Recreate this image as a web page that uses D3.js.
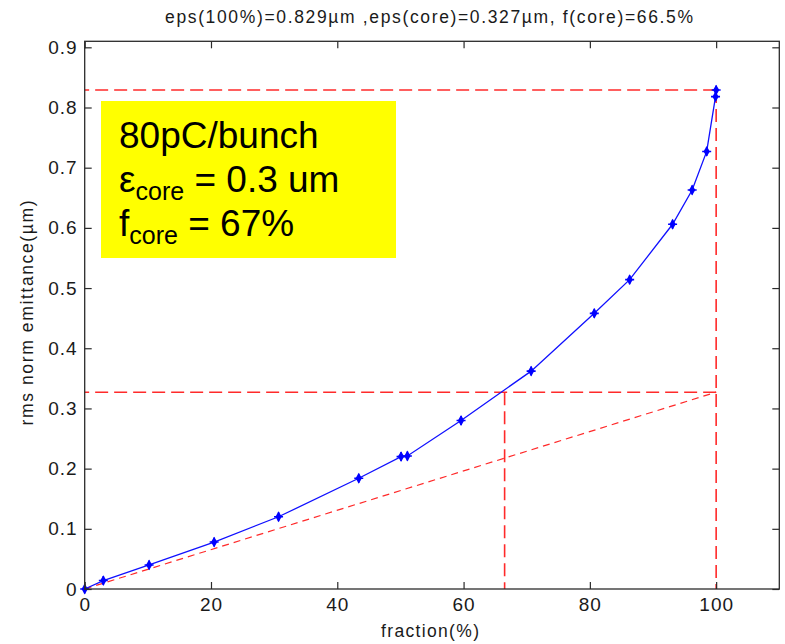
<!DOCTYPE html>
<html>
<head>
<meta charset="utf-8">
<script src="https://cdn.jsdelivr.net/npm/d3@7"></script>
<style>
  html, body { margin: 0; padding: 0; background: #fff; }
  svg { display: block; font-family: "Liberation Sans", Arial, sans-serif; }
</style>
</head>
<body>
<div id="chart"></div>
<script>
const fraction = [0, 2.95, 10.2, 20.5, 30.7, 43.4, 50.1, 51.1, 59.6, 70.7, 80.7, 86.3, 93.1, 96.2, 98.5, 99.9, 100];
const emittance = [0, 0.014, 0.040, 0.078, 0.120, 0.184, 0.220, 0.221, 0.280, 0.362, 0.458, 0.514, 0.606, 0.663, 0.727, 0.818, 0.829];

// guide values
const epsFull = 0.829;
const epsCore = 0.327;
const fCore = 66.5;

const xTicks = [0, 20, 40, 60, 80, 100];
const xTickLabels = ["0", "20", "40", "60", "80", "100"];
const yTicks = [0, 0.1, 0.2, 0.3, 0.4, 0.5, 0.6, 0.7, 0.8, 0.9];
const yTickLabels = ["0", "0.1", "0.2", "0.3", "0.4", "0.5", "0.6", "0.7", "0.8", "0.9"];

const titleText = "eps(100%)=0.829\u00b5m ,eps(core)=0.327\u00b5m, f(core)=66.5%";
const xLabel = "fraction(%)";
const yLabel = "rms norm emittance(\u00b5m)";

const width = 785, height = 644;
const margin = {top: 41.3, right: 5.7, bottom: 55, left: 84.7};

const svg = d3.select("#chart").append("svg")
    .attr("width", width)
    .attr("height", height);

const x = d3.scaleLinear().domain([0, 110]).range([margin.left, width - margin.right]);
const y = d3.scaleLinear().domain([0, 0.91]).range([height - margin.bottom, margin.top]);

const axisColor = "#2b2b2b";
const red = "#ff2a2a";

// red guide lines
const guides = svg.append("g").attr("fill", "none").attr("stroke", red);

guides.append("line") // top horizontal
    .attr("x1", x(100)).attr("y1", y(epsFull))
    .attr("x2", x(0)).attr("y2", y(epsFull))
    .attr("stroke-width", 1.6).attr("stroke-dasharray", "13,6");
guides.append("line") // right vertical
    .attr("x1", x(100)).attr("y1", y(epsFull))
    .attr("x2", x(100)).attr("y2", y(0))
    .attr("stroke-width", 1.6).attr("stroke-dasharray", "13,6");
guides.append("line") // core horizontal
    .attr("x1", x(100)).attr("y1", y(epsCore))
    .attr("x2", x(0)).attr("y2", y(epsCore))
    .attr("stroke-width", 1.6).attr("stroke-dasharray", "13,6");
guides.append("line") // core vertical
    .attr("x1", x(fCore)).attr("y1", y(epsCore))
    .attr("x2", x(fCore)).attr("y2", y(0))
    .attr("stroke-width", 1.6).attr("stroke-dasharray", "13,6");
guides.append("line") // diagonal
    .attr("x1", x(0)).attr("y1", y(0))
    .attr("x2", x(100)).attr("y2", y(epsCore))
    .attr("stroke-width", 1.2).attr("stroke-dasharray", "7,5");

// blue curve
const pts = fraction.map((f, i) => [f, emittance[i]]);
const line = d3.line().x(d => x(d[0])).y(d => y(d[1]));

svg.append("path")
    .datum(pts)
    .attr("fill", "none")
    .attr("stroke", "#1010ff")
    .attr("stroke-width", 1.3)
    .attr("d", line);

const markers = svg.append("g").selectAll("g")
    .data(pts)
    .enter()
    .append("g")
    .attr("transform", d => "translate(" + x(d[0]) + "," + y(d[1]) + ")");

markers.append("path")
    .attr("d", d3.symbol().type(d3.symbolDiamond).size(34))
    .attr("fill", "#0000ff");
markers.append("path")
    .attr("d", "M-4.5,0H4.5M0,-4.5V4.5")
    .attr("stroke", "#0000ff")
    .attr("stroke-width", 1.6);

// axes (ticks pointing inward, box on)
const fmtX = d => xTickLabels[xTicks.indexOf(d)];
const fmtY = d => yTickLabels[yTicks.indexOf(d)];

const gx = svg.append("g")
    .attr("transform", "translate(0," + y(0) + ")")
    .call(d3.axisBottom(x).tickValues(xTicks).tickFormat(fmtX).tickSizeInner(-7).tickSizeOuter(0).tickPadding(9));
const gy = svg.append("g")
    .attr("transform", "translate(" + x(0) + ",0)")
    .call(d3.axisLeft(y).tickValues(yTicks).tickFormat(fmtY).tickSizeInner(-7).tickSizeOuter(0).tickPadding(7));
const gt = svg.append("g")
    .attr("transform", "translate(0," + y(0.91) + ")")
    .call(d3.axisTop(x).tickValues(xTicks).tickFormat("").tickSizeInner(-7).tickSizeOuter(0));
const gr = svg.append("g")
    .attr("transform", "translate(" + x(110) + ",0)")
    .call(d3.axisRight(y).tickValues(yTicks).tickFormat("").tickSizeInner(-7).tickSizeOuter(0));

[gx, gy, gt, gr].forEach(g => {
    g.select(".domain").remove();
    g.selectAll("line").attr("stroke", axisColor).attr("stroke-width", 1.2);
    g.selectAll("text")
        .attr("fill", "#1a1a1a")
        .style("font-size", "19px")
        .style("letter-spacing", "1px");
});

svg.append("rect")
    .attr("x", x(0)).attr("y", y(0.91))
    .attr("width", x(110) - x(0)).attr("height", y(0) - y(0.91))
    .attr("fill", "none")
    .attr("stroke", axisColor)
    .attr("stroke-width", 1.3);

// title and labels
svg.append("text")
    .attr("x", 429).attr("y", 23)
    .attr("text-anchor", "middle")
    .attr("fill", "#1a1a1a")
    .attr("textLength", 528)
    .attr("lengthAdjust", "spacing")
    .style("font-size", "17.5px")
    .text(titleText);

svg.append("text")
    .attr("x", 430).attr("y", 637)
    .attr("text-anchor", "middle")
    .attr("fill", "#1a1a1a")
    .attr("textLength", 98)
    .attr("lengthAdjust", "spacing")
    .style("font-size", "17.5px")
    .text(xLabel);

svg.append("text")
    .attr("transform", "translate(33,313) rotate(-90)")
    .attr("text-anchor", "middle")
    .attr("fill", "#1a1a1a")
    .attr("textLength", 225)
    .attr("lengthAdjust", "spacing")
    .style("font-size", "17.5px")
    .text(yLabel);

// yellow annotation box
svg.append("rect")
    .attr("x", 101).attr("y", 101)
    .attr("width", 295).attr("height", 157)
    .attr("fill", "#ffff00");

const note = svg.append("g").attr("fill", "#000").style("font-size", "37px");

note.append("text").attr("x", 119).attr("y", 148).text("80pC/bunch");

const l2 = note.append("text").attr("x", 119).attr("y", 192);
l2.append("tspan").text("\u03b5");
l2.append("tspan").attr("dy", 8).style("font-size", "25px").text("core");
l2.append("tspan").attr("dy", -8).text(" = 0.3 um");

const l3 = note.append("text").attr("x", 119).attr("y", 236);
l3.append("tspan").text("f");
l3.append("tspan").attr("dy", 8).style("font-size", "25px").text("core");
l3.append("tspan").attr("dy", -8).text(" = 67%");
</script>
</body>
</html>
